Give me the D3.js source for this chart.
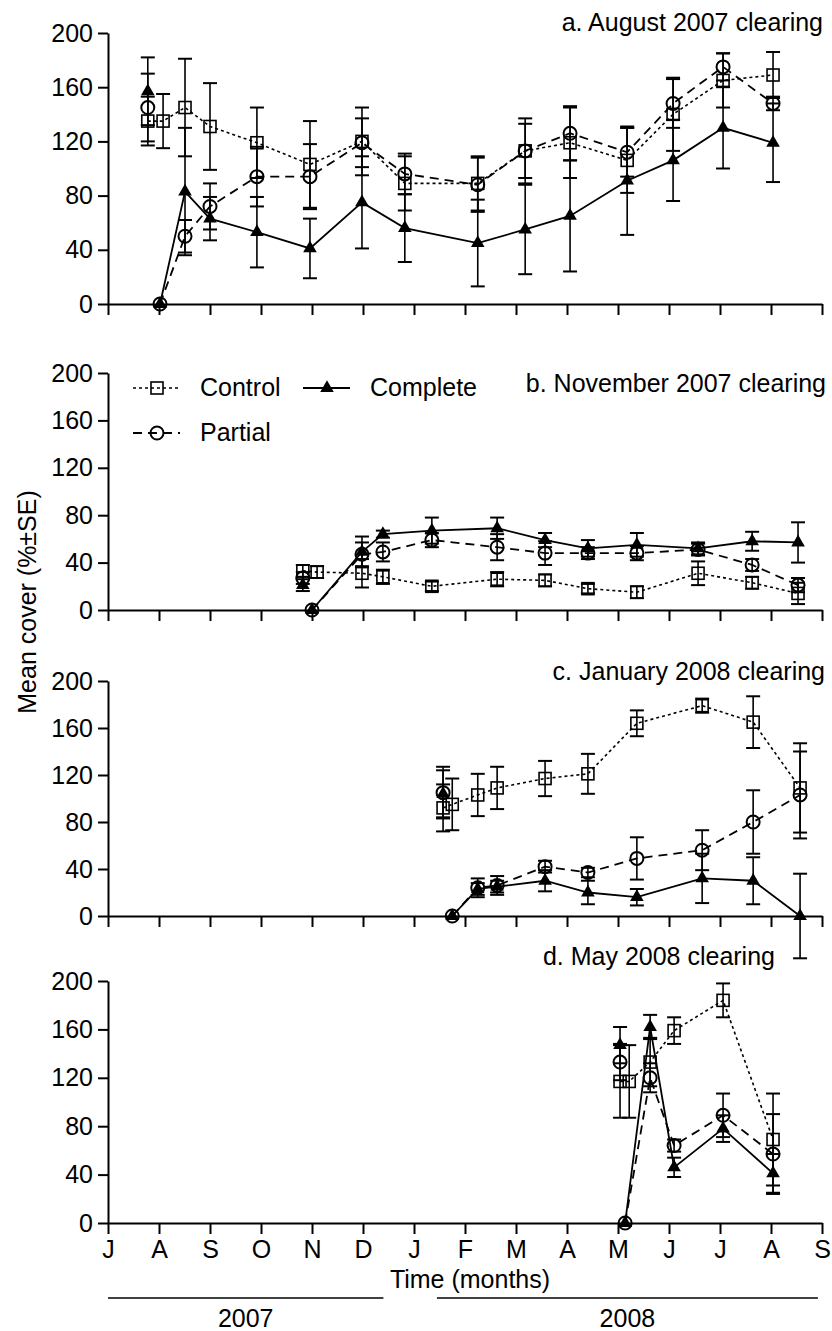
<!DOCTYPE html>
<html>
<head>
<meta charset="utf-8">
<script src="https://cdn.jsdelivr.net/npm/d3@7"></script>
<style>
  body { margin: 0; background: #fff; }
  svg { font-family: "Liberation Sans", Arial, sans-serif; }
  .axis path, .axis line { stroke: #000; stroke-width: 2; }
  .axis text { font-size: 25px; fill: #000; }
</style>
</head>
<body>
<svg width="832" height="1331"></svg>
<script>
// [month since 1 Jul 2007, mean cover, SE]
// first point of Complete / Partial is the pre-clearing survey (not joined by the line)
const aControl = [[0.78,135,18],[1.08,135,20],[1.51,145,36],[2.0,131,32],[2.92,119,26],[3.96,103,32],[4.98,120,25],[5.82,89,20],[7.25,89,20],[8.18,113,24],[9.06,119,26],[10.18,106,24],[11.08,140,27],[12.06,165,20],[13.04,169,17]];
const aComplete = [[0.78,157,25],[1.02,0,0],[1.51,83,47],[2.0,63,16],[2.92,53,26],[3.96,41,22],[4.98,75,34],[5.82,56,25],[7.25,45,32],[8.18,55,33],[9.06,65,41],[10.18,91,40],[11.08,106,30],[12.06,130,30],[13.04,119,29]];
const aPartial = [[0.78,145,25],[1.02,0,0],[1.51,50,12],[2.0,72,17],[2.92,94,22],[3.96,94,24],[4.98,119,18],[5.82,96,15],[7.25,88,20],[8.18,113,20],[9.06,126,20],[10.18,112,18],[11.08,148,18],[12.06,175,10],[13.04,148,5]];

const bControl = [[3.82,33,5],[4.1,32,5],[4.98,31,12],[5.39,28,6],[6.35,20,4],[7.63,26,6],[8.57,25,5],[9.41,18,4],[10.37,15,5],[11.57,31,10],[12.63,23,5],[13.53,14,9]];
const bComplete = [[3.82,21,5],[4.0,0,0],[4.98,49,13],[5.39,64,3],[6.35,67,11],[7.63,69,9],[8.57,59,6],[9.41,52,7],[10.37,55,10],[11.57,52,5],[12.63,58,8],[13.53,57,17]];
const bPartial = [[3.82,27,5],[4.0,0,0],[4.98,47,10],[5.39,49,8],[6.35,59,6],[7.63,53,11],[8.57,48,10],[9.41,48,5],[10.37,48,6],[11.57,51,5],[12.63,38,5],[13.53,21,6]];

const cControl = [[6.57,92,20],[6.75,95,22],[7.25,103,18],[7.63,109,18],[8.57,117,15],[9.41,121,17],[10.37,164,11],[11.65,179,6],[12.65,165,22],[13.57,109,38]];
const cComplete = [[6.57,104,20],[6.75,0,0],[7.25,23,5],[7.63,25,5],[8.57,30,9],[9.41,20,10],[10.37,16,7],[11.65,32,21],[12.65,30,20],[13.57,0,36]];
const cPartial = [[6.57,105,22],[6.75,0,0],[7.25,24,8],[7.63,26,8],[8.57,42,5],[9.41,37,4],[10.37,49,18],[11.65,56,17],[12.65,80,27],[13.57,103,37]];

const dControl = [[10.04,117,30],[10.22,117,30],[10.63,133,20],[11.1,159,11],[12.06,184,14],[13.04,69,38]];
const dComplete = [[10.04,147,15],[10.14,0,0],[10.63,162,10],[11.1,46,8],[12.06,78,11],[13.04,41,16]];
const dPartial = [[10.04,133,15],[10.14,0,0],[10.63,120,12],[11.1,64,5],[12.06,89,18],[13.04,57,33]];

const panelTitles = ["a. August 2007 clearing", "b. November 2007 clearing", "c. January 2008 clearing", "d. May 2008 clearing"];
const monthLabels = ["J","A","S","O","N","D","J","F","M","A","M","J","J","A","S"];
const yTicks = [0, 40, 80, 120, 160, 200];
const seriesNames = ["Control", "Complete", "Partial"];

const panels = [
    {title: panelTitles[0], control: aControl, complete: aComplete, partial: aPartial, top: 33, bottom: 304, titleX: 823, titleY: 31},
    {title: panelTitles[1], control: bControl, complete: bComplete, partial: bPartial, top: 373, bottom: 610, titleX: 826, titleY: 392},
    {title: panelTitles[2], control: cControl, complete: cComplete, partial: cPartial, top: 681, bottom: 916, titleX: 825, titleY: 680},
    {title: panelTitles[3], control: dControl, complete: dComplete, partial: dPartial, top: 981, bottom: 1223, titleX: 775, titleY: 965}
];

const svg = d3.select("svg");
const x = d3.scaleLinear().domain([0, 14]).range([108, 822]);

const lineStyle = {
    control: {dash: "3,3", width: 1.6},
    partial: {dash: "9,6", width: 1.8},
    complete: {dash: null, width: 1.8}
};

const drawMarker = (g, kind, cx, cy) => {
    if (kind === "control") {
        g.append("rect").attr("x", cx - 6).attr("y", cy - 6).attr("width", 12).attr("height", 12)
            .attr("fill", "none").attr("stroke", "#000").attr("stroke-width", 1.6);
    } else if (kind === "partial") {
        g.append("circle").attr("cx", cx).attr("cy", cy).attr("r", 6.5)
            .attr("fill", "none").attr("stroke", "#000").attr("stroke-width", 2);
    } else {
        g.append("path").attr("d", d3.symbol(d3.symbolTriangle, 80)())
            .attr("transform", `translate(${cx},${cy})`).attr("fill", "#000");
    }
};

const drawSeries = (g, y, data, kind) => {
    const style = lineStyle[kind];
    const joined = kind === "control" ? data : data.slice(1);
    const line = d3.line().x(d => x(d[0])).y(d => y(d[1]));

    g.append("path")
        .datum(joined)
        .attr("d", line)
        .attr("fill", "none")
        .attr("stroke", "#000")
        .attr("stroke-width", style.width)
        .attr("stroke-dasharray", style.dash);

    data.filter(d => d[2] > 0).forEach(d => {
        const cx = x(d[0]);
        g.append("line").attr("x1", cx).attr("x2", cx)
            .attr("y1", y(d[1] - d[2])).attr("y2", y(d[1] + d[2]))
            .attr("stroke", "#000").attr("stroke-width", 1.6);
        [d[1] - d[2], d[1] + d[2]].forEach(v => {
            g.append("line").attr("x1", cx - 7).attr("x2", cx + 7)
                .attr("y1", y(v)).attr("y2", y(v))
                .attr("stroke", "#000").attr("stroke-width", 2);
        });
    });

    data.forEach(d => drawMarker(g, kind, x(d[0]), y(d[1])));
};

panels.forEach((p, i) => {
    const y = d3.scaleLinear().domain([0, 200]).range([p.bottom, p.top]);
    const g = svg.append("g");
    const last = i === panels.length - 1;

    g.append("g")
        .attr("class", "axis")
        .attr("transform", `translate(0,${p.bottom})`)
        .call(d3.axisBottom(x)
            .tickValues(d3.range(15))
            .tickSize(11)
            .tickSizeOuter(0)
            .tickPadding(6)
            .tickFormat(d => last ? monthLabels[d] : ""));

    g.append("g")
        .attr("class", "axis")
        .attr("transform", `translate(${x(0)},0)`)
        .call(d3.axisLeft(y)
            .tickValues(yTicks)
            .tickSize(10)
            .tickSizeOuter(0)
            .tickPadding(5));

    g.append("text")
        .attr("x", p.titleX)
        .attr("y", p.titleY)
        .attr("text-anchor", "end")
        .attr("font-size", 25)
        .text(p.title);

    drawSeries(g, y, p.control, "control");
    drawSeries(g, y, p.partial, "partial");
    drawSeries(g, y, p.complete, "complete");
});

// legend (in panel b)
const legend = svg.append("g");
const legendItems = [
    {kind: "control", name: seriesNames[0], x0: 133, y0: 388},
    {kind: "complete", name: seriesNames[1], x0: 303, y0: 388},
    {kind: "partial", name: seriesNames[2], x0: 133, y0: 433}
];
legendItems.forEach(item => {
    const style = lineStyle[item.kind];
    legend.append("line")
        .attr("x1", item.x0).attr("x2", item.x0 + 47)
        .attr("y1", item.y0).attr("y2", item.y0)
        .attr("stroke", "#000").attr("stroke-width", style.width)
        .attr("stroke-dasharray", style.dash);
    drawMarker(legend, item.kind, item.x0 + 24, item.y0);
    legend.append("text")
        .attr("x", item.x0 + 67)
        .attr("y", item.y0 + 8)
        .attr("font-size", 25)
        .text(item.name);
});

// axis titles
svg.append("text")
    .attr("transform", "translate(36,602) rotate(-90)")
    .attr("text-anchor", "middle")
    .attr("font-size", 25)
    .text("Mean cover (%±SE)");

svg.append("text")
    .attr("x", 470)
    .attr("y", 1288)
    .attr("text-anchor", "middle")
    .attr("font-size", 25)
    .text("Time (months)");

// year bars under the time axis
const years = [["2007", 0, 5.4], ["2008", 6.45, 13.92]];
years.forEach(([label, m0, m1]) => {
    svg.append("line")
        .attr("x1", x(m0)).attr("x2", x(m1))
        .attr("y1", 1298).attr("y2", 1298)
        .attr("stroke", "#000").attr("stroke-width", 1.6);
    svg.append("text")
        .attr("x", (x(m0) + x(m1)) / 2)
        .attr("y", 1327)
        .attr("text-anchor", "middle")
        .attr("font-size", 25)
        .text(label);
});
</script>
</body>
</html>
